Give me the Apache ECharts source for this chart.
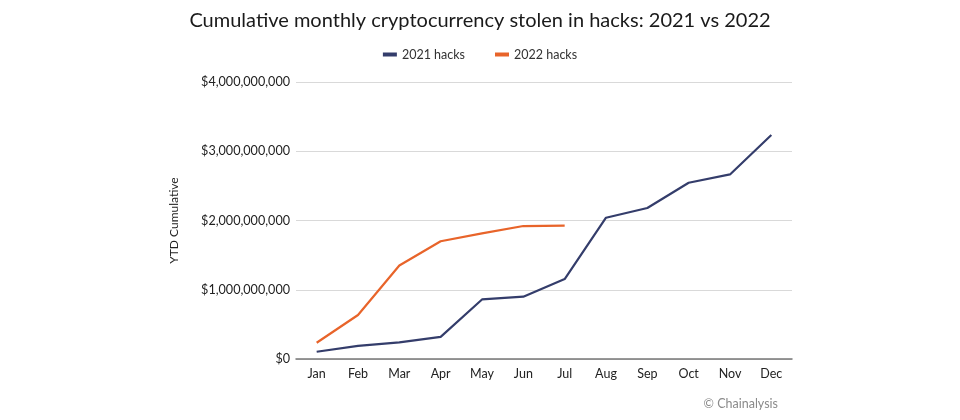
<!DOCTYPE html>
<html>
<head>
<meta charset="utf-8">
<script src="https://cdn.jsdelivr.net/npm/echarts@6/dist/echarts.min.js"></script>
<style>
  html, body { margin: 0; padding: 0; background: #fff; }
  #main { width: 960px; height: 420px; }
</style>
</head>
<body>
<div id="main"></div>
<script>
var months = ['Jan', 'Feb', 'Mar', 'Apr', 'May', 'Jun', 'Jul', 'Aug', 'Sep', 'Oct', 'Nov', 'Dec'];
var hacks2021 = [105e6, 190e6, 240e6, 320e6, 860e6, 900e6, 1155e6, 2040e6, 2180e6, 2545e6, 2665e6, 3235e6];
var hacks2022 = [235e6, 635e6, 1350e6, 1700e6, 1815e6, 1920e6, 1925e6];

var chart = echarts.init(document.getElementById('main'));

function money(v) {
  return '$' + v.toString().replace(/\B(?=(\d{3})+(?!\d))/g, ',');
}

chart.setOption({
  textStyle: { fontFamily: 'Lato' },
  title: {
    text: 'Cumulative monthly cryptocurrency stolen in hacks: 2021 vs 2022',
    left: 'center',
    top: 6,
    textStyle: { fontSize: 20, fontWeight: 'normal', color: '#1a1a1a', fontFamily: 'Lato' }
  },
  graphic: [{
    type: 'text',
    right: 182,
    top: 397,
    style: { text: '© Chainalysis', fill: '#8a8a8a', fontSize: 12.5, fontFamily: 'Lato' }
  }],
  legend: {
    top: 43,
    left: 'center',
    itemWidth: 14,
    itemHeight: 4,
    itemGap: 30,
    icon: 'rect',
    textStyle: { fontSize: 12.5, color: '#333' },
    data: ['2021 hacks', '2022 hacks']
  },
  grid: { left: 296, right: 168, top: 82, bottom: 61 },
  xAxis: {
    type: 'category',
    data: months,
    axisLine: { lineStyle: { color: '#777', width: 1.5 } },
    axisTick: { show: false },
    axisLabel: { color: '#222', fontSize: 12.5, margin: 8 }
  },
  yAxis: {
    type: 'value',
    min: 0,
    max: 4e9,
    interval: 1e9,
    name: 'YTD Cumulative',
    nameLocation: 'middle',
    nameGap: 116,
    nameTextStyle: { color: '#222', fontSize: 12 },
    axisLabel: { color: '#222', fontSize: 12.6, margin: 6, formatter: money },
    splitLine: { lineStyle: { color: '#d9d9d9', width: 1.2 } }
  },
  series: [
    {
      name: '2021 hacks',
      type: 'line',
      data: hacks2021,
      symbol: 'none',
      color: '#343d6b',
      lineStyle: { width: 2.2 }
    },
    {
      name: '2022 hacks',
      type: 'line',
      data: hacks2022,
      symbol: 'none',
      color: '#e8642a',
      lineStyle: { width: 2.2 }
    }
  ]
});
</script>
</body>
</html>
